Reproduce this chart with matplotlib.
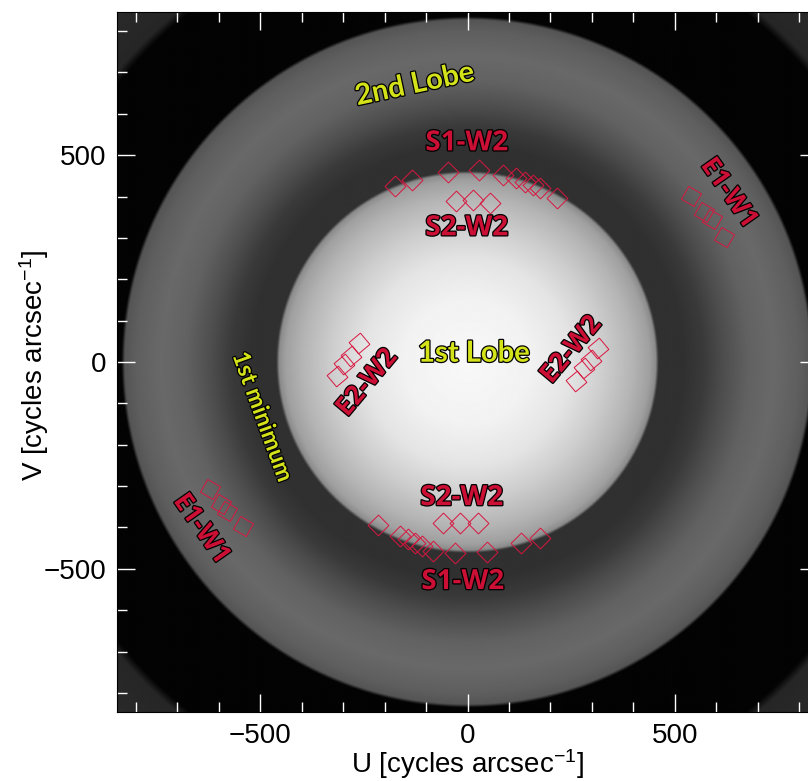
import numpy as np
import matplotlib
matplotlib.use("Agg")
import matplotlib.pyplot as plt
import matplotlib.patheffects as pe
from matplotlib.ticker import MultipleLocator

# ---- data ----
# radial brightness profile of the background (radius in cycles/arcsec, gray 0-255)
profile_radius = [0, 150, 250, 330, 400, 440, 455, 462, 520, 570, 620, 680, 740, 800, 828, 836, 1080, 1100, 1250]
profile_gray = [248, 242, 228, 205, 180, 160, 140, 48, 48, 58, 78, 98, 105, 95, 85, 3, 3, 38, 45]

s1w2_u = [-176, -135, -47, 28, 86, 118, 138, 158, 175, 215,
          175, 130, 46, -31, -83, -111, -127, -143, -164, -216]
s1w2_v = [426, 440, 460, 463, 452, 444, 436, 428, 420, 396,
          -425, -437, -460, -461, -457, -445, -437, -429, -421, -393]

s2w2_u = [-27, 14, 54, -59, -19, 26]
s2w2_v = [388, 392, 385, -389, -389, -389]

e2w2_u = [315, 297, 280, 262, -315, -297, -280, -262]
e2w2_v = [35, 5, -15, -45, -35, -5, 15, 45]

e1w1_u = [540, 572, 590, 618, -543, -580, -594, -622]
e1w1_v = [402, 362, 345, 302, -397, -361, -344, -308]

major_ticks = [-500, 0, 500]
tick_labels = ["\u2212500", "0", "500"]

# ---- figure ----
plt.rcParams["mathtext.fontset"] = "custom"
plt.rcParams["mathtext.rm"] = "Liberation Sans"
plt.rcParams["mathtext.it"] = "Liberation Sans"
plt.rcParams["font.family"] = ["Liberation Sans", "DejaVu Sans"]

W, H = 808, 781
fig = plt.figure(figsize=(W / 100, H / 100), dpi=100)
ax = fig.add_axes([117 / W, (H - 712) / H, 701 / W, 700 / H])

lim = 846
grid = np.linspace(-lim, lim, 900)
UU, VV = np.meshgrid(grid, grid)
RR = np.hypot(UU, VV)
img = np.interp(RR, profile_radius, profile_gray)
ax.imshow(img, cmap="gray", vmin=0, vmax=255, extent=(-lim, lim, -lim, lim),
          origin="lower", interpolation="bilinear", aspect="auto")
ax.set_xlim(-lim, lim)
ax.set_ylim(-lim, lim)

red = "#d8173f"
mk = dict(linestyle="none", mfc="none", mec=red, mew=0.7, ms=15)
ax.plot(s1w2_u, s1w2_v, marker=(4, 0, 0), **mk)
ax.plot(s2w2_u, s2w2_v, marker=(4, 0, 0), **mk)
ax.plot(e2w2_u, e2w2_v, marker=(4, 0, -5), **mk)
ax.plot(e1w1_u, e1w1_v, marker=(4, 0, 15), **mk)

# ticks
ax.set_xticks(major_ticks)
ax.set_xticklabels(tick_labels)
ax.set_yticks(major_ticks)
ax.set_yticklabels(tick_labels)
ax.xaxis.set_minor_locator(MultipleLocator(100))
ax.yaxis.set_minor_locator(MultipleLocator(100))
ax.tick_params(which="both", direction="in", color="white", top=True, right=True, width=1)
ax.tick_params(which="major", length=13, labelsize=20, pad=8)
ax.tick_params(which="minor", length=7)
for s in ax.spines.values():
    s.set_color("black")

fig.text(467 / W, 1 - 764 / H, r"U [cycles arcsec$^{-1}$]", ha="center", va="center", fontsize=20)
fig.text(34 / W, 1 - 365 / H, r"V [cycles arcsec$^{-1}$]", ha="center", va="center", fontsize=20, rotation=90)

# annotations
red_txt = "#cc0f34"
yel_txt = "#d4e21a"
stroke = [pe.withStroke(linewidth=1.8, foreground="black")]


def lab(x, y, s, color, size, rot=0, fam="Open Sans"):
    ax.text(x, y, s, color=color, fontsize=size, fontweight="bold", family=fam,
            ha="center", va="center", rotation=rot, rotation_mode="anchor",
            path_effects=stroke)


def px(x, y):
    return (x - 467.7) / 0.414, (362.3 - y) / 0.414


lab(*px(467, 143), "S1-W2", red_txt, 20)
lab(*px(467, 228), "S2-W2", red_txt, 20)
lab(*px(462, 498), "S2-W2", red_txt, 20)
lab(*px(463, 582), "S1-W2", red_txt, 20)
lab(*px(729, 193), "E1-W1", red_txt, 19, rot=-55)
lab(*px(202, 529), "E1-W1", red_txt, 19, rot=-55)
lab(*px(367, 383), "E2-W2", red_txt, 19, rot=50)
lab(*px(571, 350), "E2-W2", red_txt, 19, rot=50)
lab(*px(415, 85), "2nd Lobe", yel_txt, 21, rot=12, fam="Lato")
lab(*px(474, 354), "1st Lobe", yel_txt, 21, fam="Lato")
lab(*px(263, 417), "1st minimum", yel_txt, 17, rot=-70, fam="Lato")

fig.savefig("out.png", dpi=100)
